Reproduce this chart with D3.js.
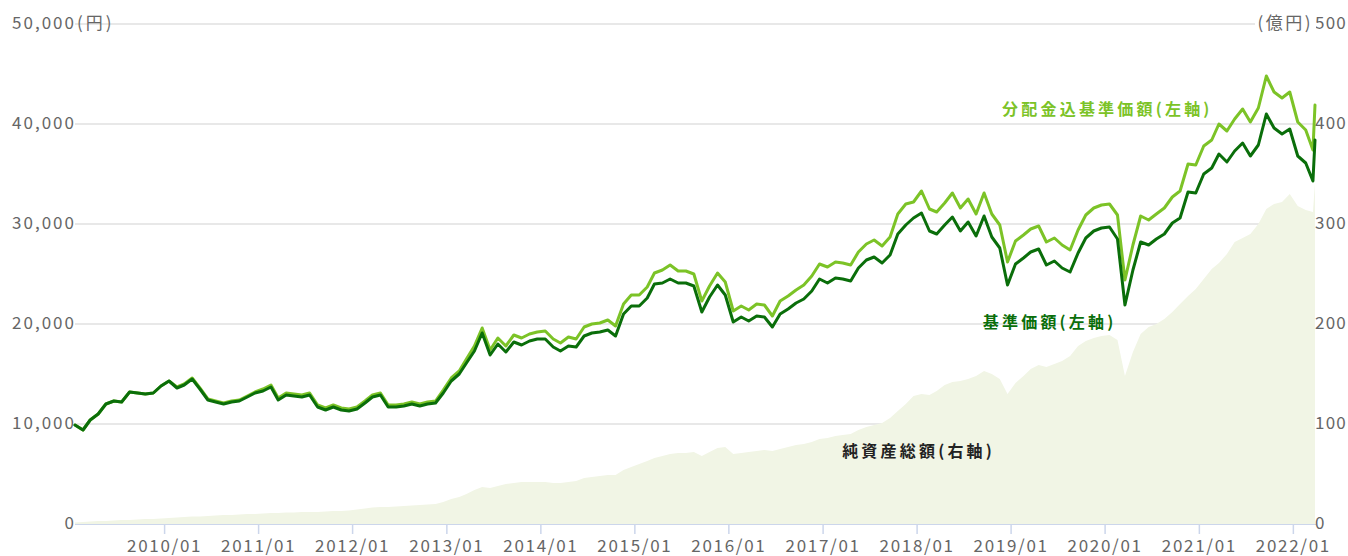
<!DOCTYPE html>
<html>
<head>
<meta charset="utf-8">
<script src="https://cdn.jsdelivr.net/npm/d3@7"></script>
<style>
body { margin: 0; background: #fff; }
svg { display: block; }
</style>
</head>
<body>
<script>
// monthly points from startDate, last point on lastDate
var startDate = new Date(2009, 0, 20);
var lastDate = new Date(2022, 2, 28);

// 基準価額 (円)
var nav = [
  9900, 9400, 10400, 11000, 12000, 12300, 12200, 13200, 13100, 13000, 13100, 13800,
  14300, 13600, 13900, 14500, 13500, 12400, 12200, 12000, 12200, 12300, 12700, 13100,
  13300, 13700, 12400, 12900, 12800, 12700, 12900, 11700, 11400, 11700, 11400, 11300,
  11500, 12100, 12700, 12900, 11700, 11700, 11800, 12000, 11800, 12000, 12100, 13100,
  14300, 15000, 16100, 17300, 19100, 16900, 18000, 17200, 18200, 17900, 18300, 18500,
  18500, 17700, 17300, 17800, 17700, 18800, 19100, 19200, 19400, 18800, 21000, 21800,
  21800, 22600, 24000, 24100, 24500, 24100, 24100, 23800, 21200, 22700, 23900, 22900,
  20200, 20700, 20300, 20800, 20700, 19700, 21000, 21500, 22100, 22500, 23300, 24500,
  24100, 24600, 24500, 24300, 25600, 26400, 26700, 26100, 26900, 29000, 29900, 30600,
  31100, 29300, 29000, 29900, 30700, 29300, 30200, 28800, 30800, 28700, 27600, 23900,
  26000, 26600, 27200, 27500, 25900, 26300, 25600, 25200, 27100, 28600, 29300, 29600,
  29700, 28500, 21900, 25400, 28200, 27900, 28500, 29000, 30100, 30600, 33200, 33100,
  35000, 35600, 37000, 36200, 37300, 38100, 36800, 37900, 41000, 39600, 39000, 39500,
  36800, 36100, 34300, 38400
];

// 分配金込基準価額 (円)
var navDiv = [
  9900, 9400, 10400, 11000, 12000, 12300, 12200, 13200, 13100, 13000, 13100, 13800,
  14300, 13700, 14000, 14600, 13600, 12500, 12300, 12100, 12300, 12400, 12800, 13200,
  13500, 13900, 12600, 13100, 13000, 12900, 13100, 11900, 11600, 11900, 11600, 11500,
  11700, 12300, 12900, 13100, 11900, 11900, 12000, 12200, 12000, 12200, 12300, 13400,
  14600, 15300, 16500, 17800, 19600, 17400, 18600, 17800, 18900, 18600, 19000, 19200,
  19300, 18500, 18100, 18700, 18500, 19700, 20000, 20100, 20400, 19800, 22000, 22900,
  22900, 23700, 25100, 25400, 25900, 25300, 25300, 25000, 22300, 23800, 25100, 24200,
  21300, 21800, 21400, 22000, 21900, 20800, 22300, 22800, 23400, 23900, 24800, 26000,
  25700, 26200, 26100, 25900, 27200, 28000, 28400, 27800, 28700, 31000, 32000, 32200,
  33300, 31500, 31200, 32100, 33100, 31600, 32500, 31000, 33100, 31000, 29900, 26200,
  28300, 28900, 29500, 29800, 28200, 28600, 27900, 27400, 29400, 30900, 31600, 31900,
  32000, 30900, 24400, 27900, 30800, 30400, 31000, 31600, 32700, 33300, 36000, 35900,
  37800, 38400, 40000, 39300, 40500, 41500, 40200, 41600, 44800, 43200, 42600, 43200,
  40200, 39400, 37400, 41900
];

// 純資産総額 (億円)
var assets = [
  1.5, 2, 2.5, 3, 3, 3.5, 4, 4, 4.5, 5, 5, 5.5,
  6, 6.5, 7, 7.5, 7.5, 8, 8.5, 9, 9, 9.5, 10, 10,
  10.5, 11, 11, 11.5, 11.5, 12, 12, 12, 12.5, 13, 13, 13.5,
  14.5, 15.5, 16.5, 17, 17, 17.5, 18, 18.5, 19, 19.5, 20, 22,
  25, 27, 30, 34, 37, 36, 38, 40, 41, 42, 42, 42,
  42, 41, 41, 42, 43, 46, 47, 48, 49, 49, 54, 57,
  60, 63, 66, 68, 70, 71, 71, 72, 68, 72, 76, 77,
  70, 71, 72, 73, 74, 73, 75, 77, 79, 80, 82, 85,
  86, 88, 89, 90, 94, 97, 99, 101, 106, 113, 120, 128,
  130, 129, 133, 139, 142, 143, 145, 148, 153, 150, 145, 130,
  141, 148, 155, 159, 157, 160, 163, 168, 178, 183, 186, 188,
  189, 184, 148, 172, 190, 197, 200, 205, 212, 220, 228, 235,
  245, 255, 261, 270, 282, 286, 290, 300, 315, 320, 322, 330,
  318, 314, 312, 341
];

var yearTicks = d3.range(2010, 2023).map(function (y) { return new Date(y, 0, 1); });
var leftTicks = [0, 10000, 20000, 30000, 40000, 50000];
var rightTicks = [0, 100, 200, 300, 400, 500];

// label anchors: [text, date, value, axis, colour]
var labels = [
  ["分配金込基準価額(左軸)", new Date(2018, 10, 29), 41600, "left", "#7cc327"],
  ["基準価額(左軸)", new Date(2018, 8, 15), 20300, "left", "#0a6e0a"],
  ["純資産総額(右軸)", new Date(2017, 2, 18), 74, "right", "#222"]
];

var width = 1348, height = 556;
var plotLeft = 75, plotRight = 1315, plotTop = 24, plotBottom = 524;
var labelFont = "'Noto Sans CJK JP', 'Noto Sans', sans-serif";

var dates = d3.range(nav.length - 1).map(function (i) {
  return d3.timeMonth.offset(startDate, i);
}).concat([lastDate]);

var data = dates.map(function (d, i) {
  return { date: d, nav: nav[i], navDiv: navDiv[i], assets: assets[i] };
});

var svg = d3.select("body").append("svg")
  .attr("width", width)
  .attr("height", height)

var x = d3.scaleTime().domain([startDate, lastDate]).range([plotLeft, plotRight]);
var yL = d3.scaleLinear().domain([0, 50000]).range([plotBottom, plotTop]);
var yR = d3.scaleLinear().domain([0, 500]).range([plotBottom, plotTop]);

/*
* grid
*/
svg.append("g").selectAll("line")
  .data(leftTicks.filter(function (t) { return t > 0; }))
  .enter().append("line")
  .attr("x1", plotLeft)
  .attr("x2", plotRight)
  .attr("y1", function (d) { return yL(d); })
  .attr("y2", function (d) { return yL(d); })
  .style("stroke", "#e8e8e8")
  .style("stroke-width", 2);

/*
* 純資産総額 area
*/
var area = d3.area()
  .x(function (d) { return x(d.date); })
  .y0(plotBottom)
  .y1(function (d) { return yR(d.assets); });

svg.append("path")
  .datum(data)
  .attr("d", area)
  .style("fill", "#f1f5e5");

/*
* x axis
*/
var xAxis = svg.append("g")
  .attr("transform", "translate(0," + plotBottom + ")")
  .call(d3.axisBottom(x)
    .tickValues(yearTicks)
    .tickFormat(d3.timeFormat("%Y/%m"))
    .tickSize(10)
    .tickSizeOuter(0));

xAxis.select(".domain")
  .attr("d", "M" + plotLeft + ",0.5H" + (plotRight + 1))
  .style("stroke", "#ccd6eb");
xAxis.selectAll(".tick line")
  .style("stroke", "#ccd6eb")
  .style("stroke-width", 1.5);
xAxis.selectAll(".tick text")
  .attr("y", 28)
  .attr("dy", 0)
  .style("fill", "#666")
  .style("font-family", labelFont)
  .style("font-size", "17px")
  .style("letter-spacing", "1.7px");

/*
* y axis labels
*/
var fmt = d3.format(",");

svg.append("g").selectAll("text")
  .data(leftTicks)
  .enter().append("text")
  .attr("x", plotLeft + 1)
  .attr("y", function (d) { return yL(d) + 5; })
  .attr("text-anchor", "end")
  .style("fill", "#666")
  .style("font-family", labelFont)
  .style("font-size", "17px")
  .style("letter-spacing", "2px")
  .text(function (d) { return fmt(d); });

svg.append("g").selectAll("text")
  .data(rightTicks)
  .enter().append("text")
  .attr("x", plotRight)
  .attr("y", function (d) { return yR(d) + 5; })
  .style("fill", "#666")
  .style("font-family", labelFont)
  .style("font-size", "17px")
  .style("letter-spacing", "1.2px")
  .text(function (d) { return d; });

// units
svg.append("text")
  .attr("x", plotLeft + 2)
  .attr("y", yL(50000) + 5)
  .style("fill", "#666")
  .style("font-family", labelFont)
  .style("font-size", "17px")
  .style("letter-spacing", "3px")
  .text("(円)");

svg.append("rect")
  .attr("x", plotRight - 60)
  .attr("y", yR(500) - 10)
  .attr("width", 61)
  .attr("height", 20)
  .style("fill", "#fff");

svg.append("text")
  .attr("x", plotRight - 2)
  .attr("y", yR(500) + 5)
  .attr("text-anchor", "end")
  .style("fill", "#666")
  .style("font-family", labelFont)
  .style("font-size", "17px")
  .style("letter-spacing", "2.5px")
  .text("(億円)");

/*
* lines
*/
function drawLine(key, color) {
  var line = d3.line()
    .x(function (d) { return x(d.date); })
    .y(function (d) { return yL(d[key]); });
  svg.append("path")
    .datum(data)
    .attr("d", line)
    .style("fill", "none")
    .style("stroke", color)
    .style("stroke-width", 3)
    .style("stroke-linejoin", "round")
    .style("stroke-linecap", "round");
}

drawLine("navDiv", "#7cc327");
drawLine("nav", "#0a6e0a");

/*
* series labels
*/
labels.forEach(function (l) {
  var y = l[3] == "left" ? yL(l[2]) : yR(l[2]);
  svg.append("text")
    .attr("x", x(l[1]))
    .attr("y", y)
    .attr("dominant-baseline", "central")
    .style("fill", l[4])
    .style("font-family", labelFont)
    .style("font-size", "16px")
    .style("font-weight", "bold")
    .style("letter-spacing", "3.2px")
    .text(l[0]);
});
</script>
</body>
</html>
